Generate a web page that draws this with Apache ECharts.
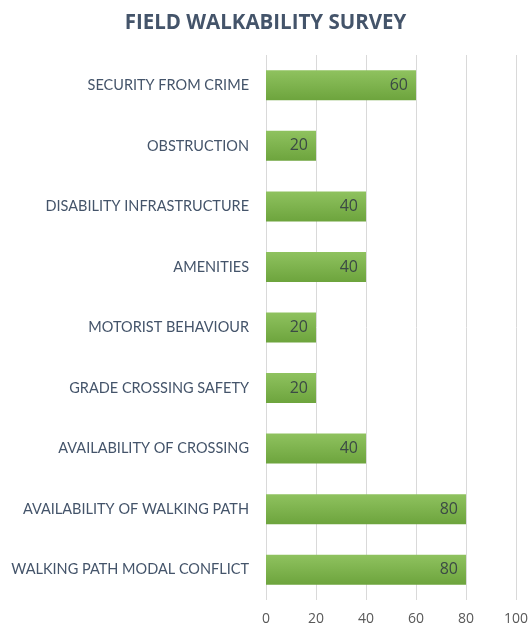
<!DOCTYPE html>
<html>
<head>
<meta charset="utf-8">
<style>
  html, body { margin: 0; padding: 0; background: #fff; }
  #main { width: 531px; height: 628px; }
</style>
<script src="https://cdn.jsdelivr.net/npm/echarts@6/dist/echarts.min.js"></script>
</head>
<body>
<div id="main"></div>
<script>
// categories listed bottom to top (as ECharts draws a category y axis)
let categories = [
    "WALKING PATH MODAL CONFLICT",
    "AVAILABILITY OF WALKING PATH",
    "AVAILABILITY OF CROSSING",
    "GRADE CROSSING SAFETY",
    "MOTORIST BEHAVIOUR",
    "AMENITIES",
    "DISABILITY INFRASTRUCTURE",
    "OBSTRUCTION",
    "SECURITY FROM CRIME"
];
let values = [80, 80, 40, 20, 20, 40, 40, 20, 60];
let xTicks = [0, 20, 40, 60, 80, 100];

let textColor = "#44546a";

let option = {
    animation: false,
    title: {
        text: "FIELD WALKABILITY SURVEY",
        left: "center",
        top: 8,
        textStyle: {
            color: textColor,
            fontFamily: "Open Sans",
            fontWeight: "bold",
            fontSize: 20.5
        }
    },
    grid: {
        left: 266,
        right: 14,
        top: 55,
        bottom: 28
    },
    xAxis: {
        type: "value",
        min: xTicks[0],
        max: xTicks[xTicks.length - 1],
        interval: 20,
        axisLine: { show: false },
        axisTick: { show: false },
        axisLabel: {
            color: "#595959",
            fontFamily: "Open Sans",
            fontSize: 14,
            margin: 12
        },
        splitLine: {
            lineStyle: { color: "#d9d9d9", width: 1 }
        }
    },
    yAxis: {
        type: "category",
        data: categories,
        axisLine: { show: false },
        axisTick: { show: false },
        axisLabel: {
            color: textColor,
            fontFamily: "Lato",
            fontSize: 14.5,
            margin: 17
        }
    },
    series: [
        {
            name: "Score",
            type: "bar",
            data: values,
            barWidth: 30,
            itemStyle: {
                color: new echarts.graphic.LinearGradient(0, 0, 0, 1, [
                    { offset: 0, color: "#8fc25f" },
                    { offset: 1, color: "#6da43d" }
                ])
            },
            label: {
                show: true,
                position: "insideRight",
                distance: 8,
                color: "#3b4a45",
                fontFamily: "Open Sans",
                fontSize: 16
            }
        }
    ]
};

let chart = echarts.init(document.getElementById("main"));
chart.setOption(option);
</script>
</body>
</html>
